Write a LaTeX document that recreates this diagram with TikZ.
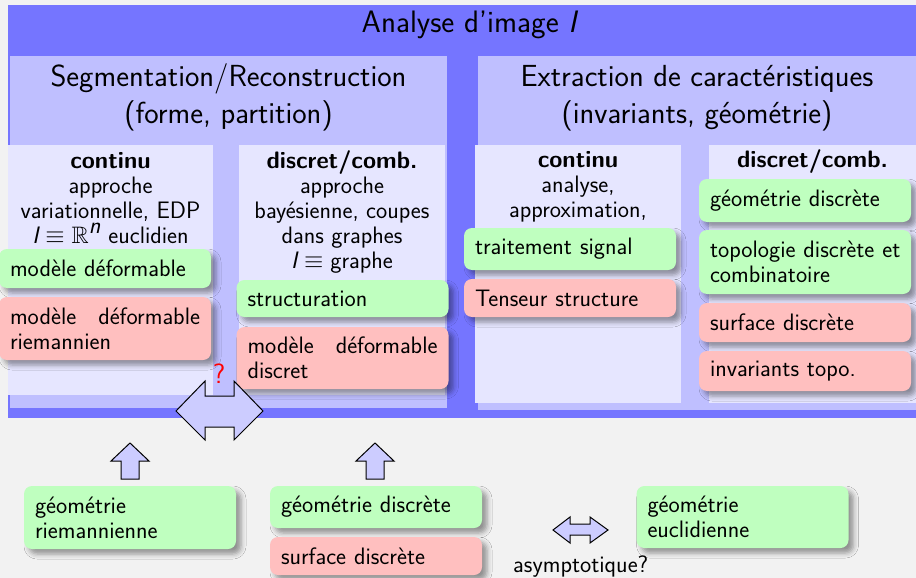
\documentclass[tikz,border=0pt]{standalone}
\usepackage{amssymb}
\usetikzlibrary{shadows.blur}
\definecolor{frameblue}{RGB}{117,117,255}
\definecolor{secblue}{RGB}{191,191,255}
\definecolor{colblue}{RGB}{230,230,255}
\definecolor{boxgreen}{RGB}{191,255,191}
\definecolor{boxpink}{RGB}{255,191,191}
\definecolor{arrowfill}{RGB}{204,204,255}
\definecolor{bggray}{RGB}{242,242,242}
\begin{document}
\begin{tikzpicture}[x=1pt,y=-1pt, font=\sffamily\fontsize{23.8}{25}\selectfont,
  box/.style={rounded corners=8pt, text width=190pt, inner xsep=11pt, inner ysep=2pt, align=left,
    blur shadow={shadow xshift=5pt, shadow yshift=-5pt, shadow blur radius=5pt, shadow opacity=40}},
  gbox/.style={box, fill=boxgreen},
  pbox/.style={box, fill=boxpink},
  coltext/.style={anchor=base, align=center, inner sep=0pt},
  headtext/.style={anchor=base, align=center, inner sep=0pt, font=\sffamily\fontsize{30.5}{37}\selectfont},
  blockarrow/.style={fill=arrowfill, draw=black, line width=1pt, line join=miter}
]
\useasboundingbox (0,0) rectangle (916,578);
\fill[bggray] (0,0) rectangle (916,578);
% frame
\fill[frameblue] (8,5) rectangle (916,418);
\node[anchor=base, inner sep=0pt, font=\sffamily\fontsize{31}{34}\selectfont] (title) at (470,33) {Analyse d'image \textit{I}};
% sections
\fill[secblue] (10,56) rectangle (447,408);
\fill[secblue] (478,56) rectangle (916,410);
\node[headtext] (hl) at (228.5,124) {Segmentation/Reconstruction\\(forme, partition)};
\node[headtext] (hr) at (697,124) {Extraction de caractéristiques\\(invariants, géométrie)};
% columns
\fill[colblue] (8,145) rectangle (213,395);
\fill[colblue] (239,145) rectangle (445,395);
\fill[colblue] (475,145) rectangle (681,403);
\fill[colblue] (709,145) rectangle (916,403);
\node[coltext] (l1t) at (110.5,243) {\textbf{continu}\\approche\\variationnelle, EDP\\$\textit{I}\equiv\mathbb{R}^{\textit{n}}$ euclidien};
\node[coltext] (l2t) at (342,268) {\textbf{discret/comb.}\\approche\\bayésienne, coupes\\dans graphes\\$\textit{I}\equiv{}$graphe};
\node[coltext] (r1t) at (578,217) {\textbf{continu}\\analyse,\\approximation,};
\node[coltext] (r2t) at (812.5,167) {\textbf{discret/comb.}};
% boxes
\node[gbox, minimum height=39pt] (b1) at (105,268.5) {modèle déformable};
\node[pbox, minimum height=63pt] (b2) at (105,328.5) {modèle\hfill déformable\\riemannien};
\node[gbox, minimum height=37pt] (b3) at (342.5,298.5) {structuration};
\node[pbox, minimum height=62pt] (b4) at (342.5,358) {modèle\hfill déformable\\discret};
\node[gbox, minimum height=42pt] (b5) at (570,249) {traitement signal};
\node[pbox, minimum height=38pt] (b6) at (570,298) {Tenseur structure};
\node[gbox, minimum height=43pt] (b7) at (805,200.5) {géométrie discrète};
\node[gbox, minimum height=64pt] (b8) at (805,262) {\mbox{topologie discrète et}\\combinatoire};
\node[pbox, minimum height=39pt] (b9) at (805,322.5) {surface discrète};
\node[pbox, minimum height=40pt] (b10) at (805,371) {invariants topo.};
% block arrows
\draw[blockarrow] (176,411) -- (205,381) -- (205,396) -- (234,396) -- (234,381) -- (263,411) -- (234,440) -- (234,427) -- (205,427) -- (205,440) -- cycle;
\node[text=red, anchor=base, inner sep=0pt, font=\sffamily\fontsize{28}{30}\selectfont] (q) at (219,383) {?};
\draw[blockarrow] (130,443) -- (149,461) -- (139,461) -- (139,479) -- (121,479) -- (121,461) -- (111,461) -- cycle;
\draw[blockarrow] (375,443) -- (394,461) -- (384,461) -- (384,479) -- (366,479) -- (366,461) -- (356,461) -- cycle;
\draw[blockarrow] (553,530) -- (570,517) -- (570,524) -- (590,524) -- (590,517) -- (608,530) -- (590,543) -- (590,535) -- (570,535) -- (570,543) -- cycle;
% bottom boxes
\node[gbox, minimum height=63pt] (b11) at (130,517.5) {géométrie\\riemannienne};
\node[gbox, minimum height=42pt] (b12) at (376,507) {géométrie discrète};
\node[pbox, minimum height=38pt] (b13) at (376,556) {surface discrète};
\node[gbox, minimum height=62pt] (b14) at (742.5,517) {géométrie\\euclidienne};
\node[anchor=base west, inner sep=0pt] (asym) at (513,572) {asymptotique?};
\end{tikzpicture}
\end{document}
